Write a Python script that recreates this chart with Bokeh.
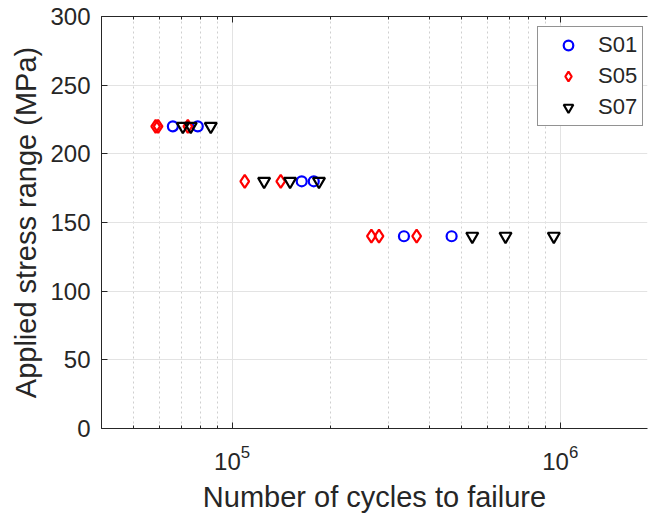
from bokeh.plotting import figure
from bokeh.models import FixedTicker, Range1d, LogAxis
from bokeh.embed import file_html
from bokeh.resources import INLINE

# ---- data ----
s01_cycles = [66000, 78600, 163000, 177400, 334000, 466700]
s01_stress = [220, 220, 180, 180, 140, 140]

s05_cycles = [58500, 59500, 73300, 109300, 140700, 265800, 280400, 365100]
s05_stress = [220, 220, 220, 180, 180, 140, 140, 140]

s07_cycles = [70800, 74800, 86100, 125200, 150200, 184000, 539500, 681300, 956100]
s07_stress = [220, 220, 220, 180, 180, 180, 140, 140, 140]

series_names = ["S01", "S05", "S07"]
x_major_ticks = [1e5, 1e6]
y_ticks = [0, 50, 100, 150, 200, 250, 300]

x_minor_ticks = [m * 10 ** e for e in (4, 5, 6) for m in range(2, 10)]

AX = "#262626"
FONT = "Liberation Sans"

p = figure(width=648, height=518, x_axis_type="log",
           x_range=Range1d(4e4, 1.845e6), y_range=Range1d(0, 300),
           output_backend="svg", toolbar_location=None,
           min_border_left=101, min_border_right=1,
           min_border_top=16, min_border_bottom=90)

p.background_fill_color = "white"
p.border_fill_color = "white"
p.outline_line_color = None

xt = FixedTicker(ticks=x_major_ticks, minor_ticks=x_minor_ticks)
p.xaxis.ticker = xt
p.yaxis.ticker = FixedTicker(ticks=y_ticks)

for ax in (p.xaxis[0], p.yaxis[0]):
    ax.axis_line_color = AX
    ax.major_tick_line_color = AX
    ax.minor_tick_line_color = AX
    ax.major_tick_in = 6
    ax.major_tick_out = 0
    ax.minor_tick_in = 3
    ax.minor_tick_out = 0
    ax.major_label_text_color = AX
    ax.major_label_text_font = FONT
    ax.major_label_text_font_size = "24px"
    ax.axis_label_text_color = AX
    ax.axis_label_text_font = FONT
    ax.axis_label_text_font_size = "29px"
    ax.axis_label_text_font_style = "normal"

p.yaxis.minor_tick_line_color = None
p.xaxis.axis_label = "Number of cycles to failure"
p.yaxis.axis_label = "Applied stress range (MPa)"
p.xaxis.major_label_standoff = 16
p.xaxis.axis_label_standoff = 8
p.yaxis.major_label_standoff = 11
p.yaxis.axis_label_standoff = 5

top = LogAxis(ticker=xt, major_label_text_font_size="1px", major_label_text_alpha=0,
              major_label_standoff=0,
              axis_line_color=AX, major_tick_line_color=AX, minor_tick_line_color=AX,
              major_tick_in=6, major_tick_out=0, minor_tick_in=3, minor_tick_out=0)
p.add_layout(top, "above")

p.xgrid.grid_line_color = "#e3e3e3"
p.xgrid.minor_grid_line_color = "#cfcfcf"
p.xgrid.minor_grid_line_dash = "2 3"
p.ygrid.grid_line_color = "#e3e3e3"

p.scatter(s01_cycles, s01_stress, marker="circle", size=10, fill_color=None,
          line_color="#0000ff", line_width=2.2, legend_label=series_names[0])
p.scatter(s05_cycles, s05_stress, marker="diamond", size=13, fill_color=None,
          line_color="#ff0000", line_width=2.2, legend_label=series_names[1])
p.scatter(s07_cycles, s07_stress, marker="inverted_triangle", size=12, fill_color=None,
          line_color="#000000", line_width=2.2, legend_label=series_names[2])

lg = p.legend[0]
lg.location = (436, 302)
lg.margin = 0
lg.padding = 5
lg.spacing = 5
lg.glyph_width = 50
lg.glyph_height = 24
lg.label_height = 24
lg.label_standoff = 5
lg.label_text_font = FONT
lg.label_text_font_size = "22px"
lg.label_text_color = AX
lg.border_line_color = AX
lg.border_line_width = 1
lg.background_fill_color = "white"
lg.background_fill_alpha = 1.0

open("out.html", "w").write(file_html(p, INLINE))
